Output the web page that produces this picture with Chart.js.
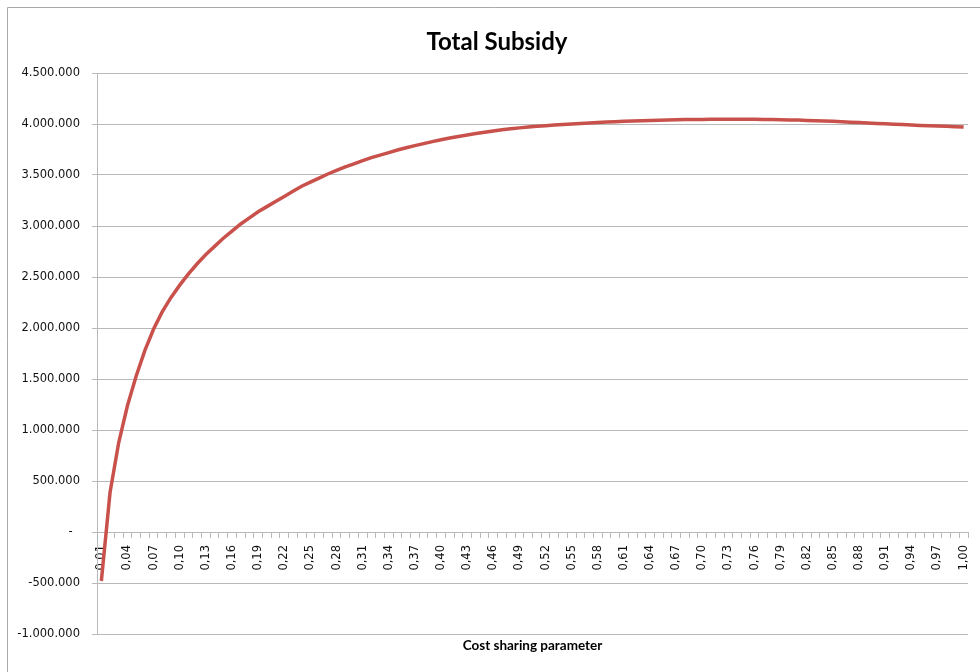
<!DOCTYPE html>
<html>
<head>
<meta charset="utf-8">
<title>Total Subsidy</title>
<script src="https://cdn.jsdelivr.net/npm/chart.js@4.4.1/dist/chart.umd.min.js"></script>
<style>
  html, body { margin: 0; padding: 0; background: #ffffff; }
  #wrap { width: 980px; height: 672px; position: relative; }
</style>
</head>
<body>
<div id="wrap"><canvas id="chart" width="980" height="672"></canvas></div>
<script>
// Cost sharing parameter (category labels, decimal comma)
const costSharing = [
  '0,01','0,02','0,03','0,04','0,05','0,06','0,07','0,08','0,09','0,10',
  '0,11','0,12','0,13','0,14','0,15','0,16','0,17','0,18','0,19','0,20',
  '0,21','0,22','0,23','0,24','0,25','0,26','0,27','0,28','0,29','0,30',
  '0,31','0,32','0,33','0,34','0,35','0,36','0,37','0,38','0,39','0,40',
  '0,41','0,42','0,43','0,44','0,45','0,46','0,47','0,48','0,49','0,50',
  '0,51','0,52','0,53','0,54','0,55','0,56','0,57','0,58','0,59','0,60',
  '0,61','0,62','0,63','0,64','0,65','0,66','0,67','0,68','0,69','0,70',
  '0,71','0,72','0,73','0,74','0,75','0,76','0,77','0,78','0,79','0,80',
  '0,81','0,82','0,83','0,84','0,85','0,86','0,87','0,88','0,89','0,90',
  '0,91','0,92','0,93','0,94','0,95','0,96','0,97','0,98','0,99','1,00'
];

// Total subsidy for each parameter value
const totalSubsidy = [
  -480000, 390000, 880000, 1240000, 1530000, 1780000, 1990000, 2160000, 2300000, 2420000,
  2530000, 2630000, 2720000, 2800000, 2880000, 2950000, 3020000, 3080000, 3140000, 3190000,
  3240000, 3290000, 3340000, 3390000, 3430000, 3470000, 3510000, 3545000, 3580000, 3610000,
  3640000, 3670000, 3695000, 3720000, 3745000, 3767000, 3788000, 3808000, 3827000, 3845000,
  3862000, 3878000, 3893000, 3907000, 3920000, 3932000, 3943000, 3953000, 3962000, 3970000,
  3977000, 3984000, 3990000, 3996000, 4001000, 4006000, 4011000, 4015000, 4019000, 4023000,
  4026000, 4029000, 4032000, 4035000, 4037000, 4039000, 4041000, 4043000, 4044000, 4045000,
  4046000, 4047000, 4047000, 4047000, 4047000, 4046000, 4045000, 4044000, 4042000, 4040000,
  4038000, 4035000, 4032000, 4029000, 4026000, 4022000, 4018000, 4014000, 4010000, 4006000,
  4002000, 3998000, 3994000, 3990000, 3986000, 3983000, 3980000, 3977000, 3974000, 3971000
];

// Value axis range
const yMin = -1000000;
const yMax = 4500000;
const yStep = 500000;

function formatThousands(v) {
  if (v === 0) return '-  ';
  const s = Math.abs(v).toFixed(0).replace(/\B(?=(\d{3})+(?!\d))/g, '.');
  return (v < 0 ? '-' : '') + s;
}

const gridGray = '#b9b9b9';
const tickFont = { family: '"DejaVu Sans", Verdana, sans-serif', size: 11.5 };

// Outer frame of the chart object
const framePlugin = {
  id: 'frame',
  beforeDraw(chart) {
    const ctx = chart.ctx;
    ctx.save();
    ctx.fillStyle = '#ffffff';
    ctx.fillRect(0, 0, chart.width, chart.height);
    ctx.strokeStyle = '#a9a9a9';
    ctx.lineWidth = 1;
    ctx.beginPath();
    ctx.moveTo(7.5, chart.height + 2);
    ctx.lineTo(7.5, 7.5);
    ctx.lineTo(chart.width + 2, 7.5);
    ctx.stroke();
    ctx.restore();
  }
};

new Chart(document.getElementById('chart'), {
  type: 'line',
  data: {
    labels: costSharing,
    datasets: [{
      label: 'Total Subsidy',
      data: totalSubsidy,
      borderColor: '#c9514c',
      backgroundColor: '#c9514c',
      borderWidth: 3.5,
      pointRadius: 0,
      tension: 0,
      fill: false,
      xAxisID: 'x',
      yAxisID: 'y'
    }]
  },
  options: {
    responsive: false,
    animation: false,
    devicePixelRatio: 1,
    layout: { padding: { left: 14, right: 0, top: 26, bottom: 0 } },
    plugins: {
      legend: { display: false },
      tooltip: { enabled: false },
      title: {
        display: true,
        text: 'Total Subsidy',
        color: '#000000',
        font: { family: 'Lato, "Open Sans", sans-serif', size: 24, weight: 'bold', lineHeight: 1.2 },
        padding: { top: 1.6, bottom: 16.6 }
      }
    },
    scales: {
      x: {
        type: 'category',
        position: { y: 0 },
        offset: true,
        afterFit(scale) { scale.paddingLeft = 0; scale.paddingRight = 0; },
        grid: {
          display: true,
          offset: true,
          drawOnChartArea: false,
          drawTicks: true,
          tickLength: 5,
          color: gridGray,
          lineWidth: 1
        },
        border: { display: true, color: gridGray, width: 1 },
        ticks: {
          autoSkip: false,
          minRotation: 90,
          maxRotation: 90,
          padding: 8,
          color: '#111111',
          font: tickFont,
          callback: function (value, index) {
            return index % 3 === 0 ? this.getLabelForValue(value) : '';
          }
        }
      },
      x2: {
        type: 'category',
        position: 'bottom',
        labels: costSharing,
        grid: { display: false, drawTicks: false },
        border: { display: false },
        ticks: { display: false },
        title: {
          display: true,
          text: 'Cost sharing parameter',
          color: '#000000',
          font: { family: 'Lato, "Open Sans", sans-serif', size: 13.5, weight: 'bold', lineHeight: 1.2 },
          padding: { top: 3.9, bottom: 17.9 }
        }
      },
      y: {
        type: 'linear',
        position: 'left',
        min: yMin,
        max: yMax,
        afterFit(scale) { scale.width = 83; },
        grid: {
          color: gridGray,
          lineWidth: 1,
          drawTicks: true,
          tickLength: 5
        },
        border: { display: true, color: gridGray, width: 1 },
        ticks: {
          stepSize: yStep,
          padding: 12,
          color: '#111111',
          font: tickFont,
          callback: (v) => formatThousands(v)
        }
      },
      // empty spacer on the right edge of the plot
      yRight: {
        type: 'linear',
        position: 'right',
        min: yMin,
        max: yMax,
        afterFit(scale) { scale.width = 12; },
        grid: { display: false, drawTicks: false },
        border: { display: false },
        ticks: { display: false }
      }
    }
  },
  plugins: [framePlugin]
});
</script>
</body>
</html>
